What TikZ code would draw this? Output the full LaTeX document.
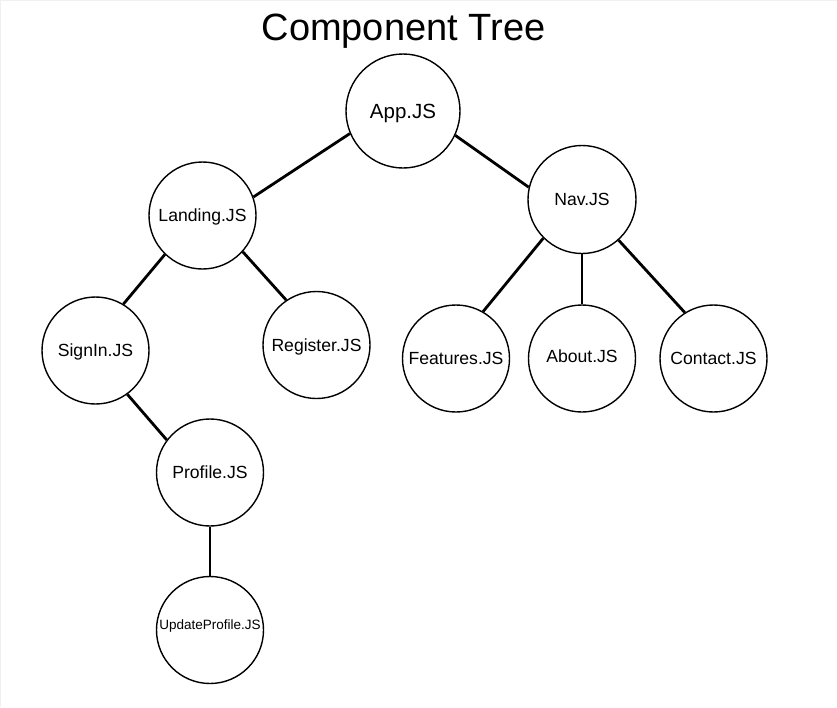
\documentclass[tikz,border=0pt]{standalone}
\usepackage{fontspec}
\setmainfont{Liberation Sans}
\begin{document}
\begin{tikzpicture}[x=1pt,y=-1pt,
  comp/.style={draw,circle,line width=1.4pt,minimum size=107pt,inner sep=0pt,
    text depth=0pt,font=\fontsize{17.6}{20}\selectfont},
  tag/.style={text depth=0pt,inner sep=0pt},
  edge/.style={line width=2.8pt}]
\useasboundingbox (0,0) rectangle (837,707);
\draw [gray!12,line width=2pt] (0,707) -- (0,0) -- (837,0);
\node [anchor=base,font=\fontsize{38}{44}\selectfont] (title) at (403.5,40) {Component Tree};

\node [comp,minimum size=114pt,font=\fontsize{20.5}{24}\selectfont] (app) at (403,111) {App.JS};
\node [comp] (landing) at (202.5,215.5) {Landing.JS};
\node [comp,minimum size=108pt] (nav) at (582,199.5) {Nav.JS};
\node [comp] (signin) at (95.5,350.5) {SignIn.JS};
\node [comp] (register) at (316.5,345) {Register.JS};
\node [comp] (profile) at (210,472.5) {Profile.JS};
\node [comp,label={[tag,font=\fontsize{13.5}{16}\selectfont,yshift=5pt]center:UpdateProfile.JS}] (update) at (210,630) {};
\node [comp] (features) at (456,358.5) {Features.JS};
\node [comp,label={[tag,font=\fontsize{17.6}{20}\selectfont,yshift=2.5pt]center:About.JS}] (about) at (582,358.5) {};
\node [comp] (contact) at (713.5,358.5) {Contact.JS};

\draw [edge] (app.-157) -- (landing.20);
\draw [edge] (app.-25) -- (nav.167);
\draw [edge] (landing.-134) -- (signin.59);
\draw [edge] (landing.-42) -- (register.124);
\draw [edge] (signin.-54) -- (profile.143);
\draw [edge] (profile) -- (update);
\draw [edge] (nav.-135) -- (features.60);
\draw [edge] (nav) -- (about);
\draw [edge] (nav.-48) -- (contact.122);

\end{tikzpicture}
\end{document}
